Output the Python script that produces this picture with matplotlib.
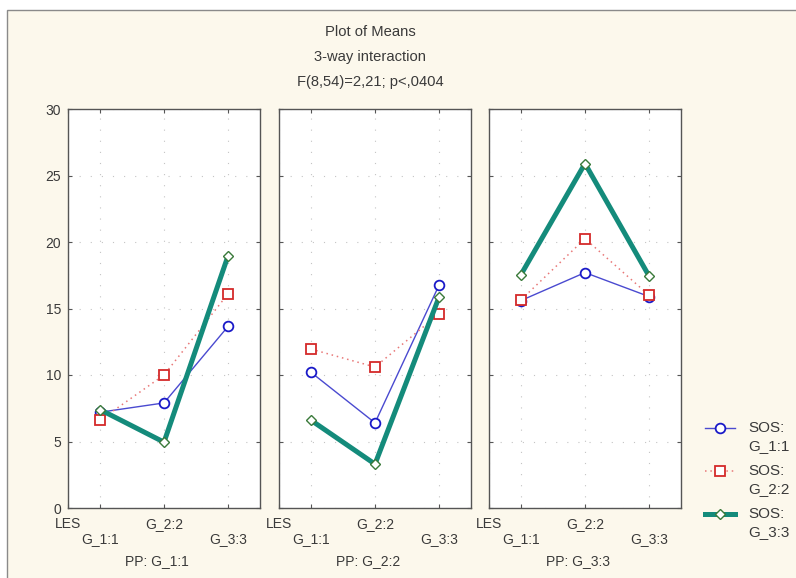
import matplotlib
matplotlib.use("Agg")
import matplotlib.pyplot as plt
from matplotlib.patches import Rectangle
from matplotlib.lines import Line2D
from matplotlib.legend_handler import HandlerLine2D

plt.rcParams['font.family'] = ['Liberation Sans', 'DejaVu Sans']

# ---- data ----
categories = ["G_1:1", "G_2:2", "G_3:3"]
factor_name = "LES"
panel_titles = ["PP: G_1:1", "PP: G_2:2", "PP: G_3:3"]
series_labels = ["SOS:\nG_1:1", "SOS:\nG_2:2", "SOS:\nG_3:3"]
sos1 = [[7.2, 7.9, 13.65], [10.2, 6.4, 16.75], [15.6, 17.7, 15.9]]
sos2 = [[6.6, 10.0, 16.1], [11.95, 10.6, 14.6], [15.65, 20.25, 16.0]]
sos3 = [[7.4, 4.95, 18.95], [6.6, 3.3, 15.85], [17.55, 25.9, 17.45]]
yticks = [0, 5, 10, 15, 20, 25, 30]
title_lines = "Plot of Means\n3-way interaction\nF(8,54)=2,21; p<,0404"

W, H = 796, 578
fig = plt.figure(figsize=(W / 100, H / 100), dpi=100)
fig.patch.set_facecolor("white")

# outer cream frame
frame = Rectangle((7 / W, -0.2), 2.0, 0.2 + 1 - 10 / H, transform=fig.transFigure,
                  facecolor="#FCF8EC", edgecolor="#8a8a8a", lw=1.0, zorder=-10)
fig.patches.append(frame)

styles = [
    dict(color="#4a4ad0", lw=1.0, ls="-", marker="o", ms=7, mfc="white",
         mec="#1a1ac8", mew=1.3, zorder=3),
    dict(color="#e87878", lw=1.1, ls=(0, (1, 2.5)), marker="s", ms=7, mfc="white",
         mec="#d42a2a", mew=1.3, zorder=4),
    dict(color="#148b7b", lw=3.6, ls="-", marker="D", ms=5, mfc="white",
         mec="#3a7a3a", mew=1.0, zorder=5),
]

lefts = [68, 279, 489]
pw, top, bot = 192, 109, 508
x = list(range(len(categories)))
axes = []
for i, lx in enumerate(lefts):
    ax = fig.add_axes([lx / W, 1 - bot / H, pw / W, (bot - top) / H])
    ax.set_facecolor("white")
    for data, st in zip([sos1, sos2, sos3], styles):
        ax.plot(x, data[i], **st)
    ax.set_xlim(-0.5, 2.5)
    ax.set_ylim(0, 30)
    ax.set_yticks(yticks)
    ax.set_xticks([-0.5] + x)
    labs = ax.set_xticklabels([factor_name, "\n" + categories[0], categories[1],
                               "\n" + categories[2]], fontsize=10, color="#3a3a3a")
    for t in labs:
        t.set_linespacing(1.07)
    if i == 0:
        ax.set_yticklabels([str(v) for v in yticks], fontsize=10, color="#3a3a3a")
    else:
        ax.set_yticklabels([])
    ax.tick_params(direction="in", length=3, top=True, right=True, color="#555555",
                   width=0.8)
    ax.tick_params(axis="x", pad=6.8)
    ax.tick_params(axis="y", pad=5)
    ax.grid(True, linestyle=(0, (1, 9)), color="#c4c4c4", lw=0.8)
    ax.set_axisbelow(True)
    for sp in ax.spines.values():
        sp.set_color("#555555")
        sp.set_linewidth(1.0)
    ax.text(0.5 - 7 / pw, -(561 - bot) / (bot - top), panel_titles[i], transform=ax.transAxes,
            ha="center", va="center", fontsize=10, color="#3a3a3a")
    axes.append(ax)

fig.text(370 / W, 1 - 57 / H, title_lines, ha="center", va="center", fontsize=10.6,
         color="#3a3a3a", linespacing=1.97)


class FirstLineHandler(HandlerLine2D):
    """Place the legend handle level with the first label line."""
    def create_artists(self, legend, orig_handle, xdescent, ydescent, width, height,
                       fontsize, trans):
        return super().create_artists(legend, orig_handle, xdescent, ydescent - 13.6,
                                      width, height, fontsize, trans)


handles = [Line2D([], [], **{k: v for k, v in st.items() if k != "zorder"}) for st in styles]
leg = fig.legend(handles, series_labels, loc="upper left",
                 bbox_to_anchor=(705 / W, 1 - 421 / H), frameon=False, fontsize=11,
                 handlelength=1.96, handletextpad=0.85, labelspacing=0.72,
                 borderaxespad=0, borderpad=0, numpoints=1,
                 labelcolor="#3a3a3a",
                 handler_map={Line2D: FirstLineHandler()})
for t in leg.get_texts():
    t.set_linespacing(1.36)

fig.savefig("out.png", dpi=100, facecolor=fig.get_facecolor())
